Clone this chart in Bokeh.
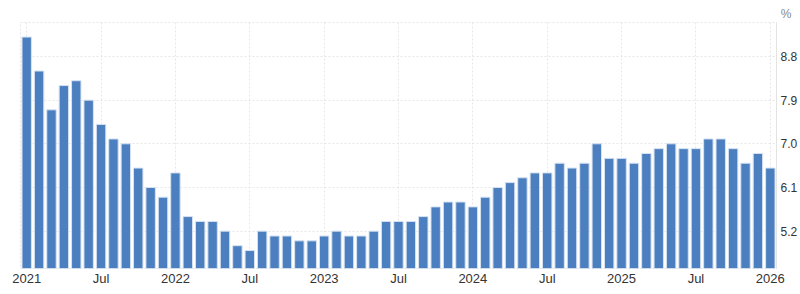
from bokeh.plotting import figure
from bokeh.models import Range1d, FixedTicker, LinearAxis, Title, ColumnDataSource, Grid
from bokeh.embed import file_html
from bokeh.resources import INLINE

months = ["Jan", "Feb", "Mar", "Apr", "May", "Jun", "Jul", "Aug", "Sep", "Oct", "Nov", "Dec"]
years = [2021, 2022, 2023, 2024, 2025, 2026]
periods = [f"{m} {y}" for y in years for m in months][:61]

values = [9.2, 8.5, 7.7, 8.2, 8.3, 7.9, 7.4, 7.1, 7.0, 6.5, 6.1, 5.9,
          6.4, 5.5, 5.4, 5.4, 5.2, 4.9, 4.8, 5.2, 5.1, 5.1, 5.0, 5.0,
          5.1, 5.2, 5.1, 5.1, 5.2, 5.4, 5.4, 5.4, 5.5, 5.7, 5.8, 5.8,
          5.7, 5.9, 6.1, 6.2, 6.3, 6.4, 6.4, 6.6, 6.5, 6.6, 7.0, 6.7,
          6.7, 6.6, 6.8, 6.9, 7.0, 6.9, 6.9, 7.1, 7.1, 6.9, 6.6, 6.8,
          6.5]

y_ticks = [5.2, 6.1, 7.0, 7.9, 8.8]
y_tick_labels = ["5.2", "6.1", "7.0", "7.9", "8.8"]
x_tick_labels = ["2021", "Jul", "2022", "Jul", "2023", "Jul", "2024", "Jul", "2025", "Jul", "2026"]
x_tick_pos = [i * 6 for i in range(len(x_tick_labels))]
unit_label = "%"

y_min, y_max = 4.43, 9.5

src = ColumnDataSource(dict(x=list(range(len(values))), top=values, period=periods))

p = figure(width=800, height=294, output_backend="svg", toolbar_location=None,
           x_range=Range1d(-0.5, len(values) - 0.5), y_range=Range1d(y_min, y_max),
           min_border_left=20, min_border_right=22, min_border_top=22, min_border_bottom=26,
           background_fill_color="white", border_fill_color="white")

p.vbar(x="x", top="top", bottom=y_min, width=0.76, source=src,
       fill_color="#4b7fbf", line_color="#d6e2f2", line_width=1)

p.yaxis.visible = False
p.xaxis.visible = False

xa = LinearAxis(ticker=FixedTicker(ticks=x_tick_pos),
                major_label_overrides={pos: lab for pos, lab in zip(x_tick_pos, x_tick_labels)})
xa.axis_line_color = None
xa.major_tick_line_color = None
xa.minor_tick_line_color = None
xa.major_tick_out = 0
xa.major_label_standoff = 2
xa.major_label_text_font = "Liberation Sans"
xa.major_label_text_font_size = "13px"
xa.major_label_text_color = "#333333"
p.add_layout(xa, "below")

ya = LinearAxis(ticker=FixedTicker(ticks=y_ticks),
                major_label_overrides={t: s for t, s in zip(y_ticks, y_tick_labels)})
ya.axis_line_color = "#e3e3e3"
ya.major_tick_line_color = None
ya.minor_tick_line_color = None
ya.major_tick_out = 0
ya.major_label_standoff = 4
ya.major_label_text_font = "Liberation Sans"
ya.major_label_text_font_size = "12px"
ya.major_label_text_color = "#333333"
p.add_layout(ya, "right")

p.xgrid.visible = False
p.ygrid.visible = False
xg = Grid(dimension=0, ticker=FixedTicker(ticks=x_tick_pos), grid_line_color="#e6e6e6", grid_line_dash="2 2")
yg = Grid(dimension=1, ticker=FixedTicker(ticks=y_ticks), grid_line_color="#e6e6e6", grid_line_dash="2 2")
p.add_layout(xg)
p.add_layout(yg)

p.outline_line_color = "#e6e6e6"
p.outline_line_dash = "2 2"

t = Title(text=unit_label, align="right", offset=-15, standoff=4,
          text_font="Liberation Sans", text_font_size="12px", text_font_style="normal",
          text_color="#888888")
p.add_layout(t, "above")

open("out.html", "w").write(file_html(p, INLINE))
